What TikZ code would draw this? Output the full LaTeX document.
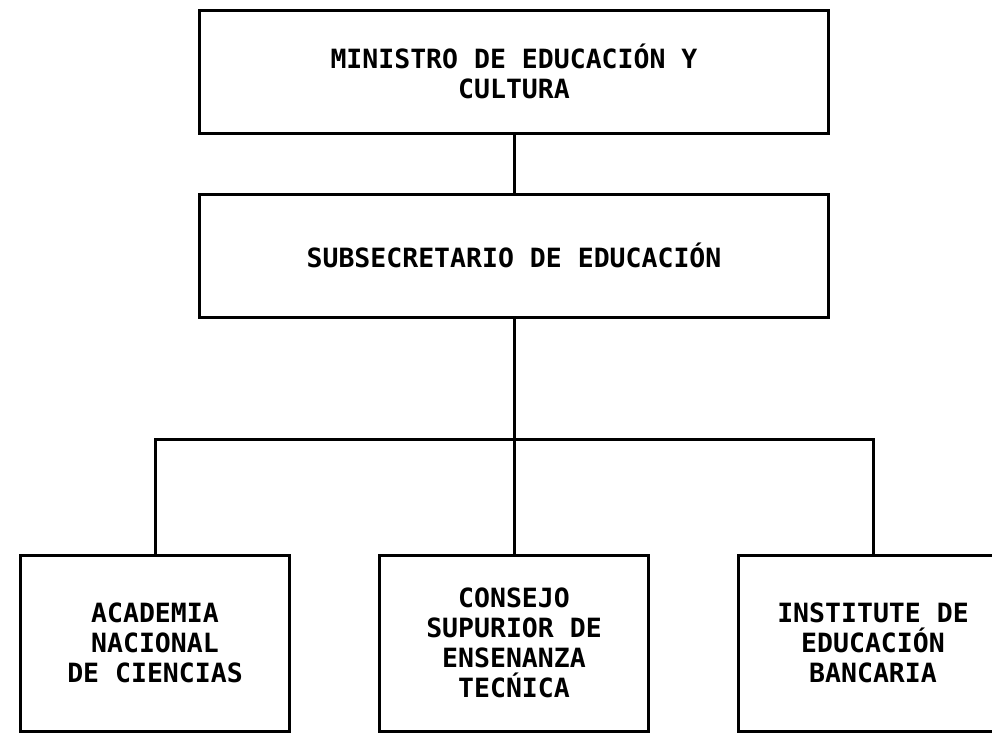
\documentclass[tikz,border=0pt]{standalone}
\usepackage{fontspec}
\newfontfamily\chartfont{DejaVu Sans Mono}
\usetikzlibrary{positioning}

\begin{document}
\begin{tikzpicture}[
  x=1pt, y=-1pt,
  node distance=87pt,
  unit/.style={draw, line width=3pt, align=center, font=\chartfont\bfseries\fontsize{26.5}{30}\selectfont},
  topunit/.style={unit, minimum width=629pt, minimum height=123pt},
  lowunit/.style={unit, minimum width=269pt, minimum height=176pt},
  link/.style={line width=3pt}
]
\clip (0,0) rectangle (992,742);
\node[topunit] (minister) at (514,71.5) {MINISTRO DE EDUCACIÓN Y\\CULTURA};
\node[topunit, below=58pt of minister] (subsec) {SUBSECRETARIO DE EDUCACIÓN};
\node[lowunit, below=235pt of subsec] (consejo) {CONSEJO\\SUPURIOR DE\\ENSENANZA\\TECŃICA};
\node[lowunit, left=of consejo] (academia) {ACADEMIA\\NACIONAL\\DE CIENCIAS};
\node[lowunit, right=of consejo] (instituto) {INSTITUTE DE\\EDUCACIÓN\\BANCARIA};
\coordinate[below=120.5pt of subsec.south] (branch);

\draw[link] (minister) -- (subsec);
\draw[link] (subsec) -- (branch);
\draw[link] (academia.north) |- (branch) -| (instituto.north);
\draw[link] (branch) -- (consejo);
\end{tikzpicture}
\end{document}
